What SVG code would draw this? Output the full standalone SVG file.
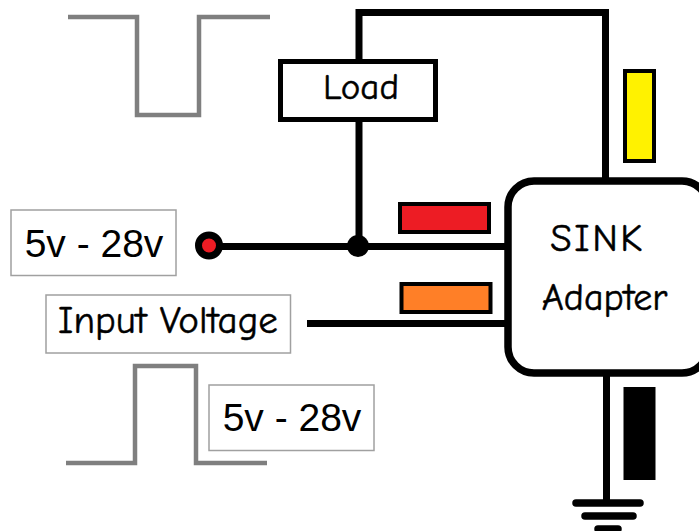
<svg xmlns="http://www.w3.org/2000/svg" width="699" height="531" viewBox="0 0 699 531">
<style>
.w{fill:none;stroke:#000;stroke-width:7}
.p{fill:none;stroke:#7f7f7f;stroke-width:4.500}
.b{fill:#fff;stroke:#a0a0a0;stroke-width:1.5}
.t{font-family:"Comic Neue","Comic Sans MS","DejaVu Sans",sans-serif;fill:#000;stroke:#000;stroke-width:.5;text-anchor:middle}
.a{font-family:"Liberation Sans",Arial,sans-serif;fill:#000;text-anchor:middle;font-size:39px}
</style>
<rect width="699" height="531" fill="#fff"/>
<g id="connectors">
<path class="w" d="M359 62V12.500H605.500V182"/>
<path class="w" d="M359 118V246"/>
<path class="w" d="M222 246.500H508"/>
<path class="w" d="M307 323.500H508"/>
<path class="w" d="M606.500 373V500"/>
<circle cx="358" cy="246" r="11"/>
</g>
<g id="pulse-top"><path class="p" d="M68 17H137V115H199V17H270"/></g>
<g id="pulse-bottom"><path class="p" d="M66 463H135V366H196V463H267"/></g>
<g id="load"><rect x="280.500" y="61.500" width="155" height="58" fill="#fff" stroke="#000" stroke-width="5"/><text class="t" x="361" y="99" font-size="37">Load</text></g>
<g id="voltage-top"><rect class="b" x="11" y="210" width="165" height="65.500"/><text class="a" x="94" y="257">5v - 28v</text></g>
<g id="input-voltage"><rect class="b" x="46" y="295" width="244.500" height="58"/><text class="t" x="168" y="333" font-size="39">Input Voltage</text></g>
<g id="voltage-bottom"><rect class="b" x="209" y="385" width="165" height="65.500"/><text class="a" x="292" y="431">5v - 28v</text></g>
<g id="terminal"><circle cx="209" cy="245.500" r="10.500" fill="#ed1c24" stroke="#000" stroke-width="7"/></g>
<g id="sink-adapter"><rect x="508" y="181" width="200" height="192" rx="26" fill="#fff" stroke="#000" stroke-width="7.500"/><text class="t" x="597.500" y="251" font-size="39" letter-spacing="2.500">SINK</text><text class="t" x="604.500" y="310" font-size="38">Adapter</text></g>
<g id="led-red"><rect x="400" y="204" width="89" height="28" fill="#ed1c24" stroke="#000" stroke-width="4"/></g>
<g id="led-orange"><rect x="401.500" y="284" width="89" height="28" fill="#ff7f27" stroke="#000" stroke-width="4"/></g>
<g id="led-yellow"><rect x="625" y="71" width="29" height="90" fill="#fff200" stroke="#000" stroke-width="4"/></g>
<g id="led-black"><rect x="623.500" y="387" width="32" height="93" fill="#000"/></g>
<g id="ground" stroke="#000" stroke-linecap="round" stroke-width="7.500"><path d="M576 503H640"/><path d="M585 516H633"/><path d="M598 529H618"/></g>
</svg>
